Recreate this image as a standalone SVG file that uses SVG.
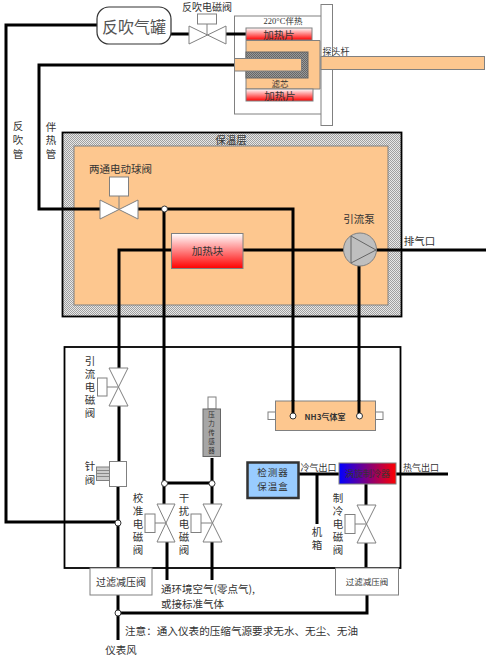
<svg xmlns="http://www.w3.org/2000/svg" width="503" height="657" viewBox="0 0 503 657">
<style>
text{font-family:"Noto Sans CJK SC","Liberation Serif",sans-serif;fill:#333;text-anchor:middle;dominant-baseline:central;font-size:10.5px}
.v{writing-mode:vertical-rl;letter-spacing:2.5px}
.s{fill:none;stroke:#808080;stroke-width:1}
.w{fill:#fff;stroke:#808080;stroke-width:1}
.o{fill:#fdc78f;stroke:#808080;stroke-width:1}
.p{fill:none;stroke:#000;stroke-width:3}
.j{fill:#fff;stroke:#333;stroke-width:1}
.h{fill:url(#rg);stroke:#808080;stroke-width:1}
.l{text-anchor:start}
.t{font-size:6.500px}
</style>
<defs>
<pattern id="dots" width="2" height="2" patternUnits="userSpaceOnUse"><rect width="2" height="2" fill="#e8e8e8"/><rect width="1" height="1" fill="#a0a0a0"/><rect x="1" y="1" width="1" height="1" fill="#a0a0a0"/></pattern>
<pattern id="dark" width="2" height="2" patternUnits="userSpaceOnUse"><rect width="2" height="2" fill="#999"/><rect width="1" height="1" fill="#666"/><rect x="1" y="1" width="1" height="1" fill="#666"/></pattern>
<linearGradient id="rg" x1="0" y1="0" x2="0" y2="1"><stop offset="0" stop-color="#fff"/><stop offset="1" stop-color="#f00"/></linearGradient>
<linearGradient id="br" x1="0" y1="0" x2="1" y2="0"><stop offset="0" stop-color="#00f"/><stop offset="1" stop-color="#f00"/></linearGradient>
</defs>

<g id="insulation">
<rect x="62.500" y="132.500" width="339" height="184" fill="url(#dots)" stroke="#000" stroke-width="1.800"/>
<rect x="74" y="146" width="314" height="159" class="o"/>
<text x="231" y="139">保温层</text>
</g>
<g id="cabinet"><rect x="64.500" y="347" width="336" height="221" fill="none" stroke="#000" stroke-width="1.800"/></g>
<g id="heater-box">
<rect x="234.500" y="16" width="87" height="98" class="w"/>
<rect x="321" y="4.500" width="11.500" height="121" class="w"/>
<text x="283" y="20.500" style="font-size:8.500px;font-family:'Liberation Serif','Noto Sans CJK SC',serif">220°C伴热</text>
</g>

<g id="connectors">
<path class="p" d="M97 25H6V522H118"/>
<path class="p" d="M171 34H189M226 34H246"/>
<path class="p" d="M235 65H39V209H100"/>
<path class="p" d="M137 209H293V416"/>
<path class="p" d="M171 250H119V368"/>
<path class="p" d="M243 250H345M375 250H486"/>
<path class="p" d="M164 209V504M164 483H212V458M167 542V580M212 504V483M212 542V580"/>
<path class="p" d="M359 266V416M119 406V461M118 487V568M118 595V640M118 613H367V595"/>
<path class="p" d="M299 474H340M396 474H448M317 474V524M366 484V506M366 543V568"/>
</g>

<g id="tank"><rect x="97" y="7" width="74" height="37" rx="12" fill="#fff" stroke="#333" stroke-width="1.200"/><text x="134" y="25.500" style="font-size:16px;fill:#555">反吹气罐</text></g>
<g id="purge-valve">
<path class="w" d="M189 26L226 44V26L189 44Z"/><path class="s" d="M207 24V35"/><rect x="197.500" y="14" width="19" height="10" class="w"/>
<text x="207" y="6.500" style="font-size:10px">反吹电磁阀</text>
</g>
<g id="heater-1"><rect x="246" y="28" width="66" height="12" class="h"/><text x="279" y="34">加热片</text></g>
<g id="probe-body">
<path class="o" d="M246 40.500H320V89H246Z"/>
<rect x="246" y="52" width="62" height="26" fill="url(#dark)" stroke="#666"/>
<rect x="234.500" y="58.500" width="67" height="12.500" class="o"/>
<text x="280" y="83" style="font-size:8.500px">滤芯</text>
</g>
<g id="heater-2"><rect x="246" y="89" width="67" height="12" class="h"/><text x="280" y="95.500">加热片</text></g>
<g id="probe-rod"><rect x="321" y="56.500" width="163.500" height="13" class="o"/><text x="336" y="51" style="font-size:9px">探头杆</text></g>

<g id="purge-label"><text class="v" x="18" y="142" style="letter-spacing:3.500px">反吹管</text></g>
<g id="trace-label"><text class="v" x="51" y="142" style="letter-spacing:3px">伴热管</text></g>

<g id="ball-valve">
<path class="w" d="M100 200L138 219V200L100 219Z"/><path class="s" d="M119 196V209"/><rect x="109.500" y="177" width="19" height="19" class="w"/>
<text x="120.500" y="168">两通电动球阀</text>
</g>
<g id="heat-block"><rect x="171.500" y="233.500" width="71.500" height="35" class="h"/><text x="207.500" y="250.500">加热块</text></g>
<g id="pump">
<circle cx="360" cy="249.500" r="16.500" fill="#bfbfbf" stroke="#808080"/>
<path d="M351 236L376 250L351 263Z" fill="none" stroke="#666"/>
<text x="359" y="218.500">引流泵</text>
</g>
<text x="419.500" y="240.500">排气口</text>

<g id="draw-valve">
<path class="w" d="M109 368H128L109 406H128Z"/><path class="s" d="M107 387H118"/><rect x="97.500" y="378" width="9.500" height="18" class="w"/>
<text class="v" x="90" y="388">引流电磁阀</text>
</g>
<g id="needle-valve">
<rect x="96.500" y="467" width="13" height="13.500" fill="#ccc" stroke="#808080"/>
<path d="M97 470.500H109M97 473.500H109M97 476.500H109" stroke="#888" stroke-width="1"/>
<rect x="109.500" y="461.500" width="17" height="25" class="w"/>
<text class="v" x="90" y="474.500" style="letter-spacing:3.500px">针阀</text>
</g>
<circle class="j" cx="118" cy="523" r="3"/>
<circle class="j" cx="164.500" cy="209" r="3"/>
<circle class="j" cx="164.500" cy="483.500" r="3"/>
<circle class="j" cx="212" cy="483.500" r="3"/>
<circle class="j" cx="118" cy="613" r="3"/>

<g id="sensor">
<rect x="208" y="397" width="8" height="12" class="w"/>
<rect x="203" y="409" width="17.500" height="47.500" fill="#a6a6a6" stroke="#666"/>
<text class="v t" x="211.500" y="434">压力传感器</text>
</g>
<g id="cal-valve">
<path class="w" d="M157 504H175L157 542H175Z"/><path class="s" d="M155 523H166"/><rect x="145" y="514" width="10" height="18.500" class="w"/>
<text class="v" x="138" y="525">校准电磁阀</text>
</g>
<g id="interf-valve">
<path class="w" d="M203 504H222L203 542H222Z"/><path class="s" d="M201 523H212"/><rect x="191" y="514" width="10" height="18.500" class="w"/>
<text class="v" x="184" y="525">干扰电磁阀</text>
</g>
<g id="nh3-cell">
<rect x="268" y="412" width="8" height="7.500" class="w"/><rect x="375" y="412" width="8" height="7.500" class="w"/>
<rect x="275.500" y="401" width="100" height="29.500" class="o"/>
<path class="p" d="M293 400V416M359 400V416"/>
<circle class="j" cx="293" cy="416" r="3"/><circle class="j" cx="359.500" cy="416" r="3"/>
<text x="325" y="416" style="font-size:8px;font-weight:bold">NH3气体室</text>
</g>
<g id="detector-box">
<rect x="247.500" y="462.500" width="51" height="35.500" fill="#99ccff" stroke="#333" stroke-width="2.500"/>
<text x="273" y="472" style="font-size:9.500px;letter-spacing:1px">检测器</text><text x="273" y="486" style="font-size:9.500px;letter-spacing:1px">保温盒</text>
</g>
<text x="318.500" y="467.500" style="font-size:9px">冷气出口</text>
<g id="cooler"><rect x="339" y="463" width="57" height="21" fill="url(#br)" stroke="#808080"/><text x="367.500" y="473.500" style="font-size:9px">涡旋制冷器</text></g>
<text x="421" y="467.500" style="font-size:9px">热气出口</text>
<g id="case-label"><text class="v" x="317" y="540">机箱</text></g>
<g id="cool-valve">
<path class="w" d="M357 505H376L357 543H376Z"/><path class="s" d="M355 524H366"/><rect x="345" y="514.500" width="10" height="19" class="w"/>
<text class="v" x="338" y="525">制冷电磁阀</text>
</g>
<g id="filter-left"><rect x="90" y="568" width="62" height="27" class="w"/><text x="121" y="581" style="font-size:10px">过滤减压阀</text></g>
<g id="filter-right"><rect x="335.500" y="568" width="63" height="27" class="w"/><text x="367" y="581" style="font-size:8.500px">过滤减压阀</text></g>
<text class="l" x="161" y="588">通环境空气(零点气),</text>
<text class="l" x="161" y="603.500">或接标准气体</text>
<text class="l" x="125" y="630" style="font-size:10.600px">注意：通入仪表的压缩气源要求无水、无尘、无油</text>
<text x="121" y="649">仪表风</text>
</svg>
